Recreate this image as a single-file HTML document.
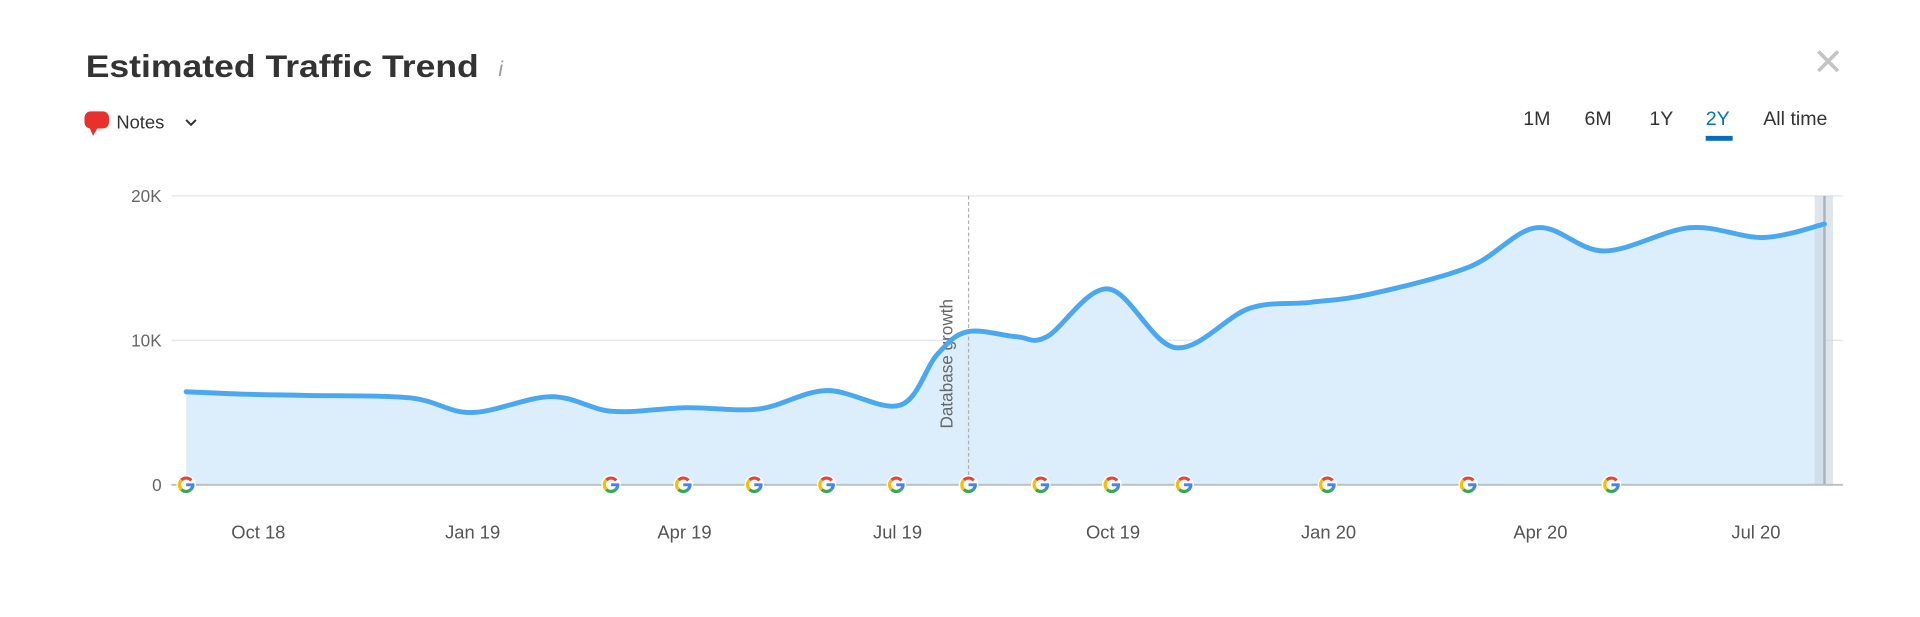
<!DOCTYPE html>
<html><head><meta charset="utf-8"><style>
html,body{margin:0;padding:0;background:#fff;}
svg{display:block;}
text{font-family:"Liberation Sans",sans-serif;}
</style></head><body>
<svg id="s" width="1920" height="617" viewBox="0 0 1568 504" preserveAspectRatio="none">
<text x="70" y="63" font-size="26" fill="#333" font-weight="bold" textLength="321" lengthAdjust="spacingAndGlyphs">Estimated Traffic Trend</text>
<text x="407" y="62" font-size="17" fill="#999" font-style="italic" font-family="Liberation Serif">i</text>
<path d="M1485,42 L1501,58 M1501,42 L1485,58" stroke="#c4c4c4" stroke-width="3"/>
<rect x="69" y="91" width="20" height="14" rx="5" fill="#e8302c"/>
<path d="M73,104 L76,111 L80,104 Z" fill="#e8302c"/>
<text x="95" y="105" font-size="15" fill="#333">Notes</text>
<path d="M152,98 L156,102 L160,98" stroke="#333" stroke-width="1.6" fill="none"/>
<g font-size="16" fill="#333">
<text x="1244" y="102">1M</text><text x="1294" y="102">6M</text><text x="1347" y="102">1Y</text>
<text x="1393" y="102" fill="#0073c4">2Y</text><text x="1440" y="102">All time</text></g>
<rect x="1393" y="111" width="22" height="4" fill="#0a6bbf"/>
<g stroke="#e6e9ec" stroke-width="1.3"><line x1="140" y1="160" x2="1505" y2="160"/><line x1="140" y1="278" x2="1505" y2="278"/></g>
<g font-size="14" fill="#666" text-anchor="end"><text x="132" y="165">20K</text><text x="132" y="283">10K</text><text x="132" y="401">0</text></g>
<path id="area" fill="#dcedfb"/>
<rect x="1482" y="160" width="15" height="236" fill="#c8d6e0" opacity="0.6"/>
<line x1="1490" y1="160" x2="1490" y2="396" stroke="#a9b4bc" stroke-width="2"/>
<line x1="791" y1="160" x2="791" y2="396" stroke="#b0b0b0" stroke-dasharray="3,2" stroke-width="1"/>
<text transform="translate(778,350) rotate(-90)" font-size="14" fill="#666">Database growth</text>
<path id="line" fill="none" stroke="#4aa8f0" stroke-width="4" stroke-linecap="round"/>
<line x1="140" y1="396" x2="1505" y2="396" stroke="#b8bec4" stroke-width="1.5"/>
<g id="gs"></g>
<g font-size="15" fill="#555" text-anchor="middle">
<text x="211" y="440">Oct 18</text><text x="386" y="440">Jan 19</text><text x="559" y="440">Apr 19</text><text x="733" y="440">Jul 19</text>
<text x="909" y="440">Oct 19</text><text x="1085" y="440">Jan 20</text><text x="1258" y="440">Apr 20</text><text x="1434" y="440">Jul 20</text></g>
</svg>
<script>
var P=[[152,320],[200,322],[250,323],[335,325],[385,337],[450,324],[500,336],[560,333],[620,334],[675,319],[735,331],[765,290],[790,271],[830,275],[855,275],[905,236],[960,284],[1020,252],[1070,247],[1120,240],[1200,218],[1255,186],[1310,205],[1380,186],[1440,194],[1490,183]];
var d="M"+P[0][0]+","+P[0][1];
for(var i=0;i<P.length-1;i++){var p0=P[Math.max(0,i-1)],p1=P[i],p2=P[i+1],p3=P[Math.min(P.length-1,i+2)];
var c1=[p1[0]+(p2[0]-p0[0])/6,p1[1]+(p2[1]-p0[1])/6],c2=[p2[0]-(p3[0]-p1[0])/6,p2[1]-(p3[1]-p1[1])/6];
d+=" C"+c1[0]+","+c1[1]+" "+c2[0]+","+c2[1]+" "+p2[0]+","+p2[1];}
document.getElementById('line').setAttribute('d',d);
document.getElementById('area').setAttribute('d',d+" L1490,396 L152,396 Z");
var xs=[152,499,558,616,675,732,791,850,908,967,1084,1199,1316],g="";
function arc(cx,cy,r,a1,a2,c){var x1=cx+r*Math.cos(a1),y1=cy+r*Math.sin(a1),x2=cx+r*Math.cos(a2),y2=cy+r*Math.sin(a2);
return '<path d="M'+x1+','+y1+' A'+r+','+r+' 0 0 1 '+x2+','+y2+'" stroke="'+c+'" stroke-width="2.6" fill="none"/>';}
xs.forEach(function(x){var y=396,r=5.5,D=Math.PI/180;
g+='<circle cx="'+x+'" cy="'+y+'" r="8" fill="#fff" opacity="0.9"/>';
g+=arc(x,y,r,-135*D,-40*D,"#ea4335")+arc(x,y,r,-225*D,-135*D,"#fbbc05")+arc(x,y,r,45*D,135*D,"#34a853")+arc(x,y,r,0,45*D,"#4285f4");
g+='<line x1="'+x+'" y1="'+y+'" x2="'+(x+r+1.2)+'" y2="'+y+'" stroke="#4285f4" stroke-width="2.4"/>';});
document.getElementById('gs').innerHTML=g;
</script>
</body></html>
